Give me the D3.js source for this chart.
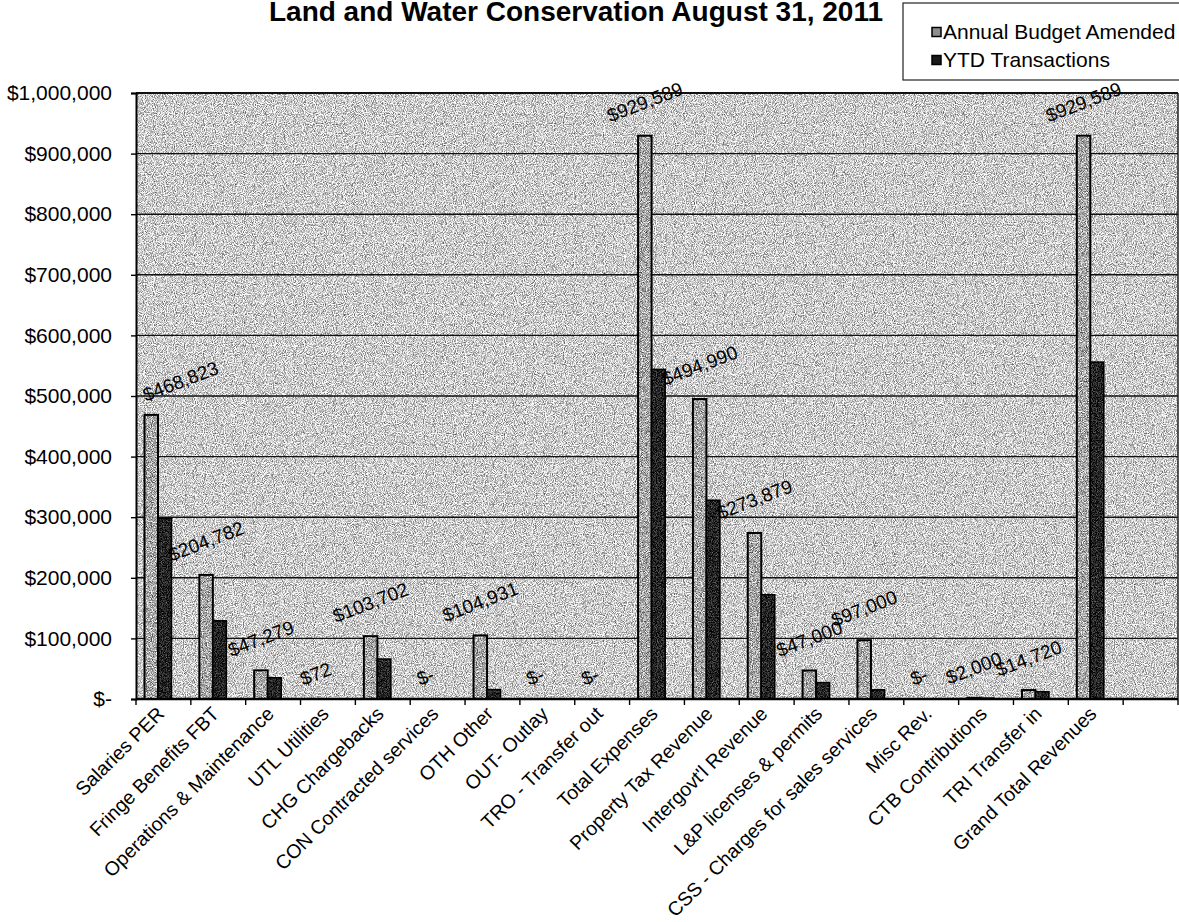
<!DOCTYPE html>
<html>
<head>
<meta charset="utf-8">
<script src="https://cdn.jsdelivr.net/npm/d3@7"></script>
<style>
  html, body { margin: 0; padding: 0; background: #fff; }
  svg { display: block; font-family: "Liberation Sans", Arial, sans-serif; }
</style>
</head>
<body>
<svg id="chart" width="1179" height="922"></svg>
<script>
// ---- data ----
const titleText = "Land and Water Conservation August 31, 2011";
const seriesNames = ["Annual Budget Amended", "YTD Transactions"];
const categories = [
  "Salaries PER", "Fringe Benefits FBT", "Operations & Maintenance", "UTL Utilities",
  "CHG Chargebacks", "CON Contracted services", "OTH Other", "OUT- Outlay",
  "TRO - Transfer out", "Total Expenses", "Property Tax Revenue", "Intergovt'l Revenue",
  "L&P licenses & permits", "CSS - Charges for sales services", "Misc Rev.",
  "CTB Contributions", "TRI Transfer in", "Grand Total Revenues", ""
];
const budgetAmended = [468823, 204782, 47279, 72, 103702, 0, 104931, 0, 0, 929589,
  494990, 273879, 47000, 97000, 0, 2000, 14720, 929589, null];
const ytdTransactions = [298000, 129000, 35000, 300, 66000, 0, 15600, 0, 0, 544000,
  328000, 172000, 27000, 15000, 0, 1500, 12000, 556000, null];
const yTickValues = [0, 100000, 200000, 300000, 400000, 500000, 600000, 700000, 800000, 900000, 1000000];
const yTickLabels = ["$-", "$100,000", "$200,000", "$300,000", "$400,000", "$500,000",
  "$600,000", "$700,000", "$800,000", "$900,000", "$1,000,000"];

// ---- layout ----
const plotLeft = 136, plotRight = 1178, plotTop = 93, plotBottom = 699;
const svg = d3.select("#chart");

// grain filters to imitate the scanned stipple texture
const defs = svg.append("defs");
function grain(id, seed, gain, mean, freq) {
  const f = defs.append("filter").attr("id", id)
    .attr("x", 0).attr("y", 0).attr("width", 1).attr("height", 1)
    .attr("color-interpolation-filters", "sRGB");
  f.append("feTurbulence").attr("type", "fractalNoise").attr("baseFrequency", freq)
    .attr("numOctaves", 1).attr("seed", seed).attr("result", "t");
  const off = mean - gain * 0.5;
  const row = `${gain} 0 0 0 ${off}`;
  f.append("feColorMatrix").attr("in", "t").attr("type", "matrix")
    .attr("values", `${row}  ${row}  ${row}  0 0 0 0 1`);
}
grain("gBg", 3, 1.6, 0.80, 1.1);
grain("gBar", 11, 1.6, 0.66, 1.2);
grain("gBlk", 17, 1.0, 0.14, 1.2);

const x = d3.scaleBand().domain(categories.map((c, i) => i)).range([plotLeft, plotRight]).padding(0);
const y = d3.scaleLinear().domain([0, 1000000]).range([plotBottom, plotTop]);
const barW = 13.5, groupOffset = 8.5;

// plot background
svg.append("rect")
  .attr("x", plotLeft).attr("y", plotTop)
  .attr("width", plotRight - plotLeft).attr("height", plotBottom - plotTop)
  .attr("fill", "#aaa").attr("filter", "url(#gBg)");

// gridlines
svg.append("g").selectAll("line").data(yTickValues.slice(1)).join("line")
  .attr("x1", plotLeft).attr("x2", plotRight)
  .attr("y1", d => y(d)).attr("y2", d => y(d))
  .attr("stroke", "#111").attr("stroke-width", d => d === 1000000 ? 2 : 1.4);

// right border
svg.append("line").attr("x1", plotRight).attr("x2", plotRight)
  .attr("y1", plotTop).attr("y2", plotBottom).attr("stroke", "#222").attr("stroke-width", 1.5);

// bars
const gBars = svg.append("g");
categories.forEach((c, i) => {
  const x0 = x(i) + groupOffset;
  const b = budgetAmended[i], t = ytdTransactions[i];
  if (b !== null) {
    const h = Math.max(0, y(0) - y(b));
    if (h > 2) gBars.append("rect").attr("x", x0).attr("y", y(b)).attr("width", barW).attr("height", h)
      .attr("fill", "#8e8e8e").attr("filter", "url(#gBar)");
    gBars.append("rect")
      .attr("x", x0).attr("y", y(b))
      .attr("width", barW).attr("height", h)
      .attr("fill", "none").attr("stroke", "#000").attr("stroke-width", 2);
  }
  if (t !== null) {
    const h = Math.max(0, y(0) - y(t));
    if (h > 2) gBars.append("rect").attr("x", x0 + barW).attr("y", y(t)).attr("width", barW).attr("height", h)
      .attr("fill", "#1a1a1a").attr("filter", "url(#gBlk)");
    gBars.append("rect")
      .attr("x", x0 + barW).attr("y", y(t))
      .attr("width", barW).attr("height", h)
      .attr("fill", "none").attr("stroke", "#000").attr("stroke-width", 1.5);
  }
});

// y axis
const yAxis = d3.axisLeft(y).tickValues(yTickValues)
  .tickFormat((d, i) => yTickLabels[i]).tickSize(5).tickPadding(19);
const gy = svg.append("g").attr("transform", `translate(${plotLeft},0)`).call(yAxis);
gy.select(".domain").attr("stroke", "#000").attr("stroke-width", 2);
gy.selectAll(".tick line").attr("stroke", "#000").attr("stroke-width", 1.4);
gy.selectAll(".tick text").attr("font-size", 21).attr("fill", "#000")
  .attr("font-family", "'Liberation Sans', Arial, sans-serif");

// x axis (ticks at category boundaries)
svg.append("line").attr("x1", plotLeft).attr("x2", plotRight)
  .attr("y1", plotBottom).attr("y2", plotBottom).attr("stroke", "#000").attr("stroke-width", 2.5);
svg.append("g").selectAll("line").data(categories.map((c, i) => i).concat([categories.length]))
  .join("line")
  .attr("x1", d => d < categories.length ? x(d) : plotRight)
  .attr("x2", d => d < categories.length ? x(d) : plotRight)
  .attr("y1", plotBottom).attr("y2", plotBottom + 6)
  .attr("stroke", "#000").attr("stroke-width", 1.4);

// category labels
svg.append("g").selectAll("text").data(categories).join("text")
  .attr("transform", (d, i) => `translate(${x(i) + x.bandwidth() / 2 + 2},${plotBottom + 16}) rotate(-45)`)
  .attr("text-anchor", "end")
  .attr("font-size", 19.5).attr("fill", "#000")
  .text(d => d);

// data labels for budget series
const fmt = v => v === 0 ? "$-" : "$" + d3.format(",")(v);
const angle = -21, rad = Math.abs(angle) * Math.PI / 180;
const gLab = svg.append("g");
categories.forEach((c, i) => {
  const b = budgetAmended[i];
  if (b === null) return;
  const t = gLab.append("text")
    .attr("font-size", 19).attr("fill", "#000")
    .attr("text-anchor", "middle").attr("dominant-baseline", "central")
    .text(fmt(b));
  const w = t.node().getComputedTextLength();
  const h = 20;
  const bbW = w * Math.cos(rad) + h * Math.sin(rad);
  const bbH = w * Math.sin(rad) + h * Math.cos(rad);
  let cx = x(i) + groupOffset + barW / 2;
  if (cx - bbW / 2 < plotLeft + 4) cx = plotLeft + 4 + bbW / 2;
  const cy = y(b) - 10 - bbH / 2;
  t.attr("transform", `translate(${cx},${cy}) rotate(${angle})`);
});

// title (top line partly cut off, as in the scan)
svg.append("text").attr("x", 576).attr("y", 21)
  .attr("text-anchor", "middle").attr("font-size", 28).attr("font-weight", "bold")
  .attr("fill", "#000").text(titleText);

// legend
const lg = svg.append("g");
lg.append("rect").attr("x", 903).attr("y", 3).attr("width", 290).attr("height", 77)
  .attr("fill", "#fff").attr("stroke", "#222").attr("stroke-width", 1.2);
const swFill = ["#8e8e8e", "#1a1a1a"];
seriesNames.forEach((s, i) => {
  const cy = 32 + i * 28;
  lg.append("rect").attr("x", 932).attr("y", cy - 4.5).attr("width", 9).attr("height", 9)
    .attr("fill", swFill[i]).attr("stroke", "#000").attr("stroke-width", 1.5);
  lg.append("text").attr("x", 943).attr("y", cy + 7).attr("font-size", 21)
    .attr("fill", "#000").text(s);
});
</script>
</body>
</html>
